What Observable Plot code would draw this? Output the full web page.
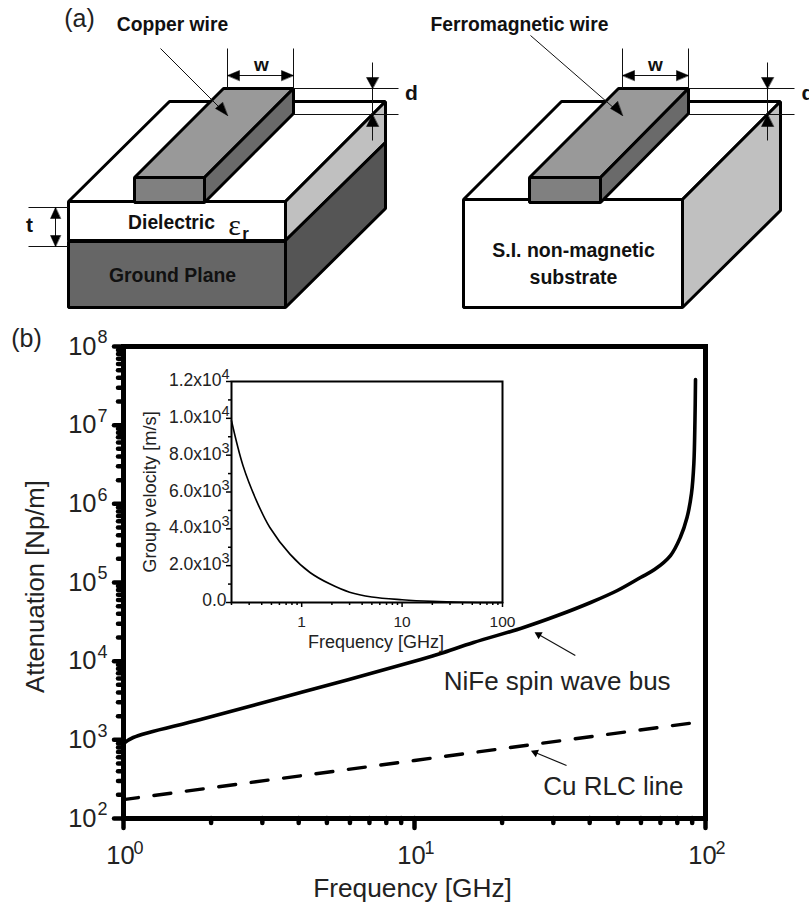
<!DOCTYPE html>
<html>
<head>
<meta charset="utf-8">
<script src="https://cdn.jsdelivr.net/npm/d3@7"></script>
<script src="https://cdn.jsdelivr.net/npm/@observablehq/plot@0.6"></script>
<style>
html,body{margin:0;padding:0;background:#fff;}
#stage{position:relative;width:809px;height:905px;overflow:hidden;}
#stage svg{position:absolute;overflow:visible;background:transparent;}
</style>
</head>
<body>
<div id="stage"></div>
<script>
// ---------- panel (b): attenuation ----------
const nifeFreq  = [1, 1.08, 1.84, 4.06, 10.5, 12.29, 15.95, 23.7, 31, 40.3, 49.8, 59.8, 66.8, 75.8, 81.9, 86.4, 89.5, 91.2, 92, 92.4];
const nifeAtten = [898, 1070, 1811, 3990, 10480, 12510, 17260, 26800, 38000, 55700, 79100, 115700, 146000, 220000, 373000, 670000, 1352000, 3250000, 11460000, 38000000];
const cuFreq  = [1, 10, 92.4];
const cuAtten = [174, 546, 1660];
const yMajor = [2, 3, 4, 5, 6, 7, 8];
const xMajor = [0, 1, 2];
const minorMultipliers = [2, 3, 4, 5, 6, 7, 8, 9];
const mainLabels = ["NiFe spin wave bus", "Cu RLC line"];
const mainLabelFreq = [12.6, 27.7];
const mainLabelAtten = [5510, 255];
const pointerFrom = [[35.7, 11800], [33.3, 472]];
const pointerTo = [[26.7, 21800], [26, 690]];
// ---------- inset: group velocity ----------
const insetFreq = [0.2, 0.2606, 0.355, 0.482, 0.764, 1.21, 1.92, 3, 5, 10, 20, 40, 100];
const insetVel  = [9866, 7423, 5522, 4072, 2628, 1630, 1000, 560, 300, 150, 60, 15, 0];
const insetYTicks = [0, 2000, 4000, 6000, 8000, 10000, 12000];
const insetYLabels = ["0.0", "2.0x10", "4.0x10", "6.0x10", "8.0x10", "1.0x10", "1.2x10"];
const insetYExp = ["", "3", "3", "3", "3", "4", "4"];
const insetYMinor = [1000, 3000, 5000, 7000, 9000, 11000];
const insetXTicks = [1, 10, 100];
const insetXMinor = [0.2,0.3,0.4,0.5,0.6,0.7,0.8,0.9,2,3,4,5,6,7,8,9,20,30,40,50,60,70,80,90];
// ---------- panel (a): schematic outlines ----------
const faces = [
  ["#ffffff", [[68,201],[169,101],[385,101],[285,201]]],
  ["#ffffff", [[68,201],[285,201],[285,240],[68,240]]],
  ["#666666", [[68,241],[285,241],[285,307],[68,307]]],
  ["#c0c0c0", [[285,201],[385,101],[385,142],[285,240]]],
  ["#555555", [[285,240],[385,142],[385,208],[285,307]]],
  ["#999999", [[134,177],[223,88],[293,88],[204,177]]],
  ["#808080", [[134,177],[204,177],[204,202],[134,202]]],
  ["#6a6a6a", [[204,177],[293,88],[293,113],[204,202]]],
  ["#ffffff", [[463,199],[561,101],[780,101],[682,199]]],
  ["#ffffff", [[463,199],[682,199],[682,307],[463,307]]],
  ["#c0c0c0", [[682,199],[780,101],[780,210],[682,307]]],
  ["#999999", [[529,177],[618,88],[688,88],[600,177]]],
  ["#808080", [[529,177],[600,177],[600,202],[529,202]]],
  ["#6a6a6a", [[600,177],[688,88],[688,113],[600,202]]]
];
const leaders = [
  [227,48,227,88],[293,48,293,88],[227,75,293,75],[372,62,372,140],[293,88,398,88],[293,114,398,114],
  [28,207,68,207],[28,246,68,246],[55,207,55,246],[160,48,227,115],
  [622,48,622,88],[688,48,688,88],[622,75,688,75],[767,62,767,140],[688,88,794,88],[688,114,794,114],
  [530,35,622,115]
];
const heads = [
  [[227,75],[239,70],[239,80]],[[293,75],[281,70],[281,80]],
  [[372,88],[366,77],[378,77]],[[372,114],[366,126],[378,126]],
  [[55,207],[50,218],[60,218]],[[55,246],[50,235],[60,235]],
  [[227,115],[215,108],[222,102]],
  [[622,75],[634,70],[634,80]],[[688,75],[676,70],[676,80]],
  [[767,88],[761,77],[773,77]],[[767,114],[761,126],[773,126]],
  [[622,115],[610,108],[617,101]]
];
const boldLabels = [
  ["Copper wire",172,24,19.3],["Ferromagnetic wire",519,24,19.3],["w",261,64,19],["w",655,64,19],
  ["d",411,93,21],["t",29,225,21],["Dielectric",171,222,19.3],["Ground Plane",172,275,19.4],
  ["S.I. non-magnetic",573,250,19.5],["substrate",573,277,19.5],["r",245,233,17]
];
const plainLabels = [["(a)",79,18],["(b)",26,338]];

const FONT = "Liberation Sans, Arial, sans-serif";
const INK = "#222222";
const stage = document.getElementById("stage");
function place(svg, left, top){ svg.style.left = left+"px"; svg.style.top = top+"px"; stage.appendChild(svg); }

// schematic
const schematicHeight = 355;
const schematic = Plot.plot({
  width: 809, height: schematicHeight,
  margin: 0,
  style: {background:"transparent", fontFamily: FONT, overflow:"visible"},
  x: {domain:[0,809], range:[0,809], axis:null},
  y: {domain:[0,schematicHeight], range:[0,schematicHeight], axis:null},
  marks: [
    ...faces.map(([fill, pts]) => Plot.line(pts, {x:d=>d[0], y:d=>d[1], fill, stroke:"#000", strokeWidth:3, curve:"linear-closed", strokeLinejoin:"miter"})),
    Plot.link(leaders, {x1:d=>d[0], y1:d=>d[1], x2:d=>d[2], y2:d=>d[3], stroke:"#111", strokeWidth:1}),
    ...heads.map(pts => Plot.line(pts, {x:d=>d[0], y:d=>d[1], fill:"#000", stroke:"#000", strokeWidth:0.5, curve:"linear-closed"})),
    Plot.text(boldLabels, {x:d=>d[1], y:d=>d[2], text:d=>d[0], fontSize:d=>d[3], fontWeight:"bold", fill:"#111", stroke:null}),
    Plot.text(["d"], {x:()=>801, y:()=>93, text:d=>d, textAnchor:"start", fontSize:21, fontWeight:"bold", fill:"#111"}),
    Plot.text(["\u03b5"], {x:()=>234, y:()=>225, text:d=>d, fontSize:30, fontFamily:"Liberation Serif, serif", fill:"#111"}),
    Plot.text(plainLabels, {x:d=>d[1], y:d=>d[2], text:d=>d[0], fontSize:25, fill:INK})
  ]
});
place(schematic, 0, 0);

// main chart
const minorAll = base => base.flatMap(p => minorMultipliers.map(m => m * 10 ** p));
const yMinor = minorAll(yMajor.slice(0,-1));
const xMinor = minorAll(xMajor.slice(0,-1));
const pointers = pointerFrom.map((f,i) => ({x1:f[0], y1:f[1], x2:pointerTo[i][0], y2:pointerTo[i][1], a:[-60,-67][i]}));
const mainTop = 340;
const frameW = 705-123, frameH = 818-346;
const tickStyle = {stroke:"#000", strokeWidth:4.5, strokeLinecap:"round"};
const main = Plot.plot({
  width: 809, height: 565,
  marginTop: 346-mainTop, marginBottom: 905-818, marginLeft: 123, marginRight: 809-705,
  style: {background:"transparent", fontFamily: FONT, overflow:"visible"},
  x: {type:"log", domain:[1,100], axis:null},
  y: {type:"log", domain:[100,1e8], axis:null},
  marks: [
    Plot.tickY(yMinor, {y:d=>d, insetLeft:-5, insetRight:frameW, ...tickStyle}),
    Plot.tickY(yMajor.map(p=>10**p), {y:d=>d, insetLeft:-9, insetRight:frameW, ...tickStyle}),
    Plot.tickX(xMinor, {x:d=>d, insetBottom:-5, insetTop:frameH, ...tickStyle}),
    Plot.tickX(xMajor.map(p=>10**p), {x:d=>d, insetBottom:-10, insetTop:frameH, ...tickStyle}),
    Plot.frame({stroke:"#000", strokeWidth:5}),
    Plot.line(nifeFreq.map((f,i)=>[f,nifeAtten[i]]), {x:d=>d[0], y:d=>d[1], stroke:"#000", strokeWidth:3.6, curve:"catmull-rom", strokeLinejoin:"round"}),
    Plot.line(cuFreq.map((f,i)=>[f,cuAtten[i]]), {x:d=>d[0], y:d=>d[1], stroke:"#000", strokeWidth:3.4, strokeDasharray:"17 15.7", strokeDashoffset:2}),
    Plot.text(yMajor, {y:p=>10**p, frameAnchor:"left", text:()=>"10", textAnchor:"end", dx:-27, fontSize:25.5, fill:INK}),
    Plot.text(yMajor, {y:p=>10**p, frameAnchor:"left", text:p=>String(p), textAnchor:"start", dx:-26, dy:-9, fontSize:18, fill:INK}),
    Plot.text(xMajor, {x:p=>10**p, frameAnchor:"bottom", text:()=>"10", dy:45, dx:-3, fontSize:25.5, fill:INK}),
    Plot.text(xMajor, {x:p=>10**p, frameAnchor:"bottom", text:p=>String(p), textAnchor:"start", dy:35, dx:10, fontSize:18, fill:INK}),
    Plot.text(mainLabels, {x:(d,i)=>mainLabelFreq[i], y:(d,i)=>mainLabelAtten[i], text:d=>d, textAnchor:"start", fontSize:26, fill:INK}),
    Plot.link(pointers, {x1:"x1", y1:"y1", x2:"x2", y2:"y2", stroke:"#111", strokeWidth:1.2}),
    Plot.dot(pointers, {x:"x2", y:"y2", symbol:"triangle", r:3, rotate:"a", fill:"#000", stroke:null}),
    Plot.text(["Frequency [GHz]"], {frameAnchor:"bottom", dy:78, fontSize:26.3, fill:INK, text:d=>d, dx:-2}),
    Plot.text(["Attenuation [Np/m]"], {frameAnchor:"left", rotate:-90, textAnchor:"middle", dx:-88, dy:4, fontSize:25.7, fill:INK, text:d=>d})
  ]
});
place(main, 0, mainTop);

// inset
const insetW = 271, insetH = 221;
const insetTick = {stroke:"#000", strokeWidth:1.5};
const inset = Plot.plot({
  width: 400, height: 300,
  marginTop: 21, marginBottom: 58, marginLeft: 101, marginRight: 28,
  style: {background:"transparent", fontFamily: FONT, overflow:"visible"},
  x: {type:"log", domain:[0.2,100], axis:null},
  y: {domain:[0,12000], axis:null},
  marks: [
    Plot.tickY(insetYMinor, {y:d=>d, insetLeft:-3, insetRight:insetW, ...insetTick}),
    Plot.tickY(insetYTicks, {y:d=>d, insetLeft:-5, insetRight:insetW, ...insetTick}),
    Plot.tickX(insetXMinor, {x:d=>d, insetBottom:-3, insetTop:insetH, ...insetTick}),
    Plot.tickX(insetXTicks, {x:d=>d, insetBottom:-5, insetTop:insetH, ...insetTick}),
    Plot.frame({stroke:"#000", strokeWidth:2}),
    Plot.line(insetFreq.map((f,i)=>[f,insetVel[i]]), {x:d=>d[0], y:d=>d[1], stroke:"#000", strokeWidth:1.6, curve:"catmull-rom"}),
    Plot.text(insetYTicks, {y:d=>d, frameAnchor:"left", text:(d,i)=>insetYLabels[i], textAnchor:"end", dx:-5, dy:-2, fontSize:17.5, fill:INK, filter:d=>d===0}),
    Plot.text(insetYTicks, {y:d=>d, frameAnchor:"left", text:(d,i)=>insetYLabels[i], textAnchor:"end", dx:-10, dy:-1, fontSize:17.5, fill:INK, filter:d=>d!==0}),
    Plot.text(insetYTicks, {y:d=>d, frameAnchor:"left", text:(d,i)=>insetYExp[i], textAnchor:"start", dx:-10, dy:-7, fontSize:14.5, fill:INK}),
    Plot.text(insetXTicks, {x:d=>d, frameAnchor:"bottom", text:d=>String(d), dy:24, fontSize:15.5, fill:INK}),
    Plot.text(["Frequency [GHz]"], {frameAnchor:"bottom", dy:45, dx:9, fontSize:18, fill:INK, text:d=>d}),
    Plot.text(["Group velocity [m/s]"], {frameAnchor:"left", rotate:-90, textAnchor:"middle", dx:-81, fontSize:18.3, fill:INK, text:d=>d})
  ]
});
place(inset, 130, 360);
</script>
</body>
</html>
